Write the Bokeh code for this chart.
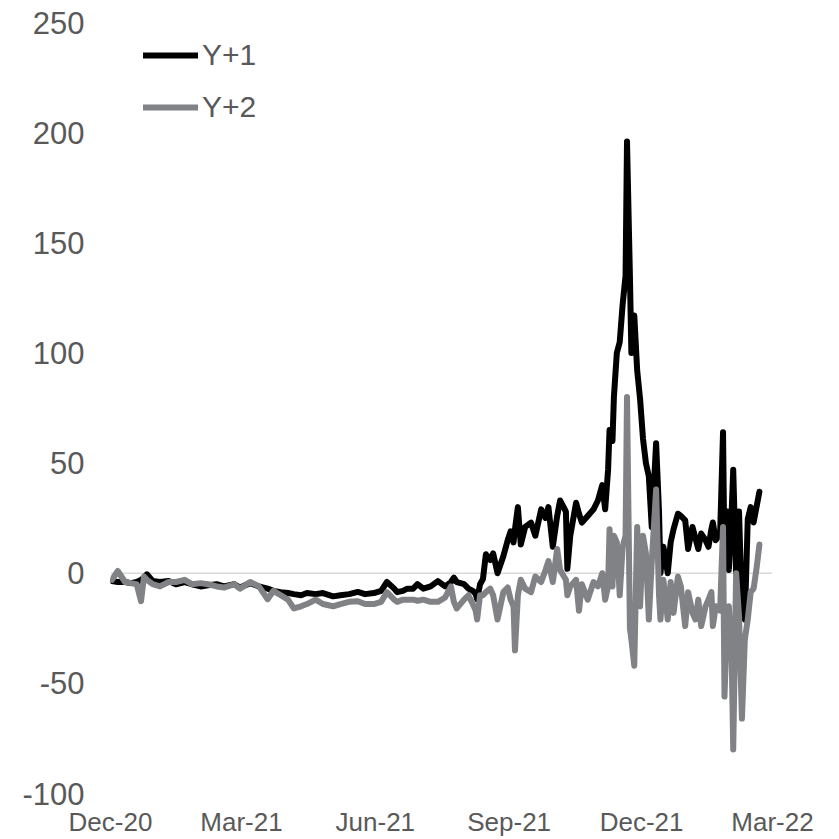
from datetime import datetime
import pandas as pd
from bokeh.plotting import figure
from bokeh.models import (ColumnDataSource, Range1d, FixedTicker, DatetimeTickFormatter,
                          Span, Legend, LegendItem)
from bokeh.embed import file_html
from bokeh.resources import INLINE

dates = [
    "2020-12-02", "2020-12-06", "2020-12-11", "2020-12-15", "2020-12-19", "2020-12-22", "2020-12-24", "2020-12-26", "2020-12-30", "2021-01-04",
    "2021-01-10", "2021-01-15", "2021-01-21", "2021-01-26", "2021-02-01", "2021-02-06", "2021-02-12", "2021-02-17", "2021-02-24", "2021-02-28",
    "2021-03-07", "2021-03-13", "2021-03-19", "2021-03-23", "2021-03-28", "2021-04-02", "2021-04-06", "2021-04-11", "2021-04-15", "2021-04-21",
    "2021-04-26", "2021-05-03", "2021-05-08", "2021-05-14", "2021-05-20", "2021-05-25", "2021-05-31", "2021-06-05", "2021-06-09", "2021-06-14",
    "2021-06-16", "2021-06-20", "2021-06-23", "2021-06-27", "2021-06-30", "2021-07-04", "2021-07-09", "2021-07-14", "2021-07-19", "2021-07-23",
    "2021-07-25", "2021-07-27", "2021-08-01", "2021-08-04", "2021-08-07", "2021-08-09", "2021-08-10", "2021-08-12", "2021-08-14", "2021-08-16",
    "2021-08-19", "2021-08-21", "2021-08-24", "2021-08-28", "2021-08-31", "2021-09-02", "2021-09-04", "2021-09-05", "2021-09-07", "2021-09-09",
    "2021-09-12", "2021-09-16", "2021-09-19", "2021-09-23", "2021-09-26", "2021-09-28", "2021-10-01", "2021-10-04", "2021-10-06", "2021-10-10",
    "2021-10-11", "2021-10-13", "2021-10-17", "2021-10-19", "2021-10-21", "2021-10-25", "2021-10-29", "2021-11-01", "2021-11-04", "2021-11-06",
    "2021-11-08", "2021-11-09", "2021-11-11", "2021-11-12", "2021-11-14", "2021-11-16", "2021-11-18", "2021-11-20", "2021-11-21", "2021-11-23",
    "2021-11-24", "2021-11-26", "2021-11-28", "2021-11-30", "2021-12-02", "2021-12-04", "2021-12-06", "2021-12-08", "2021-12-11", "2021-12-13",
    "2021-12-14", "2021-12-16", "2021-12-19", "2021-12-21", "2021-12-23", "2021-12-26", "2021-12-28", "2021-12-31", "2022-01-02", "2022-01-05",
    "2022-01-07", "2022-01-09", "2022-01-11", "2022-01-14", "2022-01-16", "2022-01-18", "2022-01-19", "2022-01-21", "2022-01-24", "2022-01-26",
    "2022-01-27", "2022-01-29", "2022-01-30", "2022-02-01", "2022-02-02", "2022-02-04", "2022-02-06", "2022-02-08", "2022-02-10", "2022-02-12",
    "2022-02-14", "2022-02-16", "2022-02-18", "2022-02-20",
]

y_plus_1 = [
    -3.6, -4, -4, -4.5, -4, -3, -2, -0.5, -3.5, -4,
    -3.5, -5, -4, -5, -6, -5.5, -5, -6, -5, -6.5,
    -4.5, -6, -7, -8, -8.6, -9, -9.5, -10, -9, -9.5,
    -9, -10.5, -10, -9.5, -8.5, -9.5, -9, -8, -4, -7,
    -8.6, -8, -7, -7, -5, -7, -6, -3.6, -6, -4,
    -2, -4, -5, -7, -8, -9.5, -11.8, -5, -2.6, 8.6,
    6, 9, 0, 7.7, 15, 19, 14, 20, 30, 13,
    21, 23, 17, 29, 25, 30, 12, 26, 33, 28,
    2, 17, 32, 27, 23, 26, 29, 33, 40, 29,
    47, 65, 60, 80, 100, 105, 122, 135, 196, 135,
    100, 117, 92, 79, 61, 50, 44, 21, 59, 28,
    0, 12, 0, 14, 20, 27, 26, 24, 11, 21,
    16, 11, 18, 15, 12, 20, 23, 15, 18, 64,
    5, 28, 1.5, 29, 47, 0, 28, -18, -21, 24.5,
    30, 23, 30, 37,
]

y_plus_2 = [
    -3, 1, -4, -4.5, -5, -12.7, -1.5, -3, -5, -6,
    -4, -4, -3, -5, -4.5, -5, -6, -6.5, -5, -7,
    -4, -6, -11.8, -8, -10, -12, -16, -15, -14, -12,
    -14, -15, -14, -13, -12.7, -14, -14, -13, -8.6, -12,
    -13, -12, -12, -12, -12.5, -12, -13, -13, -11, -6,
    -13, -16, -12, -10, -14, -17, -21, -10, -10, -8.6,
    -7, -10, -21, -8.6, -6.5, -12, -15, -35, -10, -3,
    -7, -8.6, -1.5, -4, 1.5, 5.5, -4, 11, 1.5, -3,
    -10, -6, -3, -17, -5, -12, -4, -6, 0, -12,
    -6, 20, -6, 17, 14, -10, 12, 17, 80, -25,
    -30, -42, 21, -15, 17, 9, -21, 5, 38, -10,
    -21, -3, -21, -4, -18, -1.5, -6, -24, -8.6, -18,
    -21, -12, -24, -15, -12, -8.6, -24, -15, -17, 21,
    -56, -18, -15, -40, -80, 0, -19.5, -66, -30, -21,
    -8.6, -7, 2, 13,
]

series_names = ["Y+1", "Y+2"]
x_tick_dates = ["2020-12-01", "2021-03-01", "2021-06-01", "2021-09-01", "2021-12-01", "2022-03-01"]
y_ticks = [-100, -50, 0, 50, 100, 150, 200, 250]

TEXT = "#595959"
FONT = "Liberation Sans"

src = ColumnDataSource(dict(date=pd.to_datetime(dates), y1=y_plus_1, y2=y_plus_2))

x_start = pd.Timestamp(x_tick_dates[0]).to_pydatetime()
x_end = pd.Timestamp(x_tick_dates[-1]).to_pydatetime()

p = figure(width=839, height=839, x_axis_type="datetime",
           output_backend="svg", toolbar_location=None,
           x_range=Range1d(x_start, x_end), y_range=Range1d(y_ticks[0], y_ticks[-1]),
           min_border_left=110, min_border_right=67, min_border_top=22, min_border_bottom=44)

p.background_fill_color = "white"
p.border_fill_color = "white"
p.outline_line_color = None
p.xgrid.visible = False
p.ygrid.visible = False

zero = Span(location=0, dimension="width", line_color="#d9d9d9", line_width=1.5, level="underlay")
p.add_layout(zero)

r1 = p.line("date", "y1", source=src, line_color="black", line_width=6,
            line_join="round", line_cap="round")
r2 = p.line("date", "y2", source=src, line_color="#808285", line_width=6,
            line_join="round", line_cap="round")

tick_ms = [pd.Timestamp(t).value / 1e6 for t in x_tick_dates]
p.xaxis.ticker = FixedTicker(ticks=tick_ms)
fmt = "%b-%y"
p.xaxis.formatter = DatetimeTickFormatter(microseconds=fmt, milliseconds=fmt, seconds=fmt,
                                          minsec=fmt, minutes=fmt, hourmin=fmt, hours=fmt,
                                          days=fmt, months=fmt, years=fmt)
p.yaxis.ticker = FixedTicker(ticks=y_ticks)
p.yaxis.major_label_overrides = {t: str(t) for t in y_ticks}

for ax in (p.xaxis, p.yaxis):
    ax.axis_line_color = None
    ax.major_tick_line_color = None
    ax.minor_tick_line_color = None
    ax.major_tick_out = 0
    ax.major_tick_in = 0
    ax.major_label_text_font = FONT
    ax.major_label_text_color = TEXT

p.xaxis.major_label_text_font_size = "26px"
p.xaxis.major_label_standoff = 13
p.yaxis.major_label_text_font_size = "31px"
p.yaxis.major_label_standoff = 26

legend = Legend(items=[LegendItem(label=series_names[0], renderers=[r1]),
                       LegendItem(label=series_names[1], renderers=[r2])],
                location=(33, 666))
legend.border_line_color = None
legend.background_fill_alpha = 0
legend.padding = 0
legend.margin = 0
legend.spacing = 12
legend.glyph_width = 55
legend.glyph_height = 40
legend.label_height = 40
legend.label_standoff = 4
legend.label_text_font = FONT
legend.label_text_font_size = "30px"
legend.label_text_color = TEXT
p.add_layout(legend)

open("out.html", "w").write(file_html(p, INLINE))
